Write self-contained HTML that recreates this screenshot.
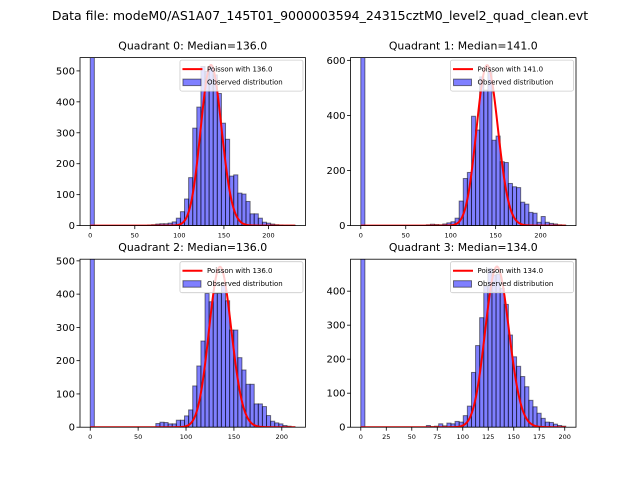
<!DOCTYPE html>
<html><head><meta charset="utf-8">
<style>
html,body{margin:0;padding:0;background:#fff;}
svg{display:block;font-family:"DejaVu Sans","Liberation Sans",sans-serif;}
</style></head>
<body>
<svg id="fig" width="640" height="480" viewBox="0 0 640 480" xmlns="http://www.w3.org/2000/svg">
<rect x="0" y="0" width="640" height="480" fill="#fff"/>
<text x="320" y="20" font-size="12.5" text-anchor="middle" fill="#000">Data file: modeM0/AS1A07_145T01_9000003594_24315cztM0_level2_quad_clean.evt</text>
</svg>
<script>
// ---- data ----
const quadrantNames = ["Quadrant 0", "Quadrant 1", "Quadrant 2", "Quadrant 3"];
const medians = [136.0, 141.0, 136.0, 134.0];
const dataMax = [230, 228, 214, 201];
const counts0 = [2000,0,0,0,0,0,0,0,0,0,0,0,0,0,2,3,5,6,6,8,12,24,45,86,155,315,383,514,498,514,487,427,331,279,160,164,105,102,78,38,38,24,11,8,5,3,2,1,1,1];
const counts1 = [2000,0,0,0,0,0,0,0,0,0,0,0,0,0,0,0,3,5,4,3,6,10,14,27,89,171,193,397,347,540,492,560,310,325,232,229,153,141,138,85,78,48,45,12,33,12,8,6,3,2];
const counts2 = [2000,0,0,0,0,0,0,0,0,0,0,0,0,0,0,0,11,15,14,10,10,21,21,34,52,124,184,259,402,377,402,402,427,380,292,292,209,172,129,129,70,70,62,35,18,13,10,5,3,1];
const counts3 = [2000,0,0,0,0,0,0,0,0,0,0,0,0,0,0,0,5,2,3,10,4,12,10,17,15,34,62,161,240,322,415,467,447,450,408,361,271,207,179,149,119,79,60,41,26,15,14,9,5,3];
const allCounts = [counts0, counts1, counts2, counts3];
const poissonPeaks = [519, 582, 482, 472];
const yTicks0 = [0,100,200,300,400,500];
const yTicks1 = [0,200,400,600];
const yTicks2 = [0,100,200,300,400,500];
const yTicks3 = [0,100,200,300,400];
const xTicks0 = [0,50,100,150,200];
const xTicks1 = [0,50,100,150,200];
const xTicks2 = [0,50,100,150,200];
const xTicks3 = [0,25,50,75,100,125,150,175,200];
const allYTicks = [yTicks0, yTicks1, yTicks2, yTicks3];
const allXTicks = [xTicks0, xTicks1, xTicks2, xTicks3];
const yMaxes = [543, 610, 505, 494];

// ---- layout ----
const NS = "http://www.w3.org/2000/svg";
const svg = document.getElementById('fig');
const axesBoxes = [
  {x:80, y:57.6, w:225.45, h:168},
  {x:350.55, y:57.6, w:225.45, h:168},
  {x:80, y:259.2, w:225.45, h:168},
  {x:350.55, y:259.2, w:225.45, h:168}
];
function mk(tag, attrs, parent){
  const e = document.createElementNS(NS, tag);
  for (const k in attrs) e.setAttribute(k, attrs[k]);
  (parent||svg).appendChild(e);
  return e;
}
function logFact(k){ let s=0; for(let i=2;i<=k;i++) s+=Math.log(i); return s; }
function pmf(k, lam){ return Math.exp(k*Math.log(lam) - lam - logFact(k)); }

for (let q=0;q<4;q++){
  const b = axesBoxes[q];
  const counts = allCounts[q];
  const nb = counts.length;
  const bw = dataMax[q]/nb;
  const xmin = -0.05*dataMax[q], xmax = dataMax[q]*1.05;
  const ymax = yMaxes[q];
  const X = v => b.x + (v - xmin)/(xmax - xmin)*b.w;
  const Y = v => b.y + b.h - v/ymax*b.h;

  const g = mk('g', {});
  
  
  const clipId = 'clip'+q;
  const cp = mk('clipPath', {id: clipId}, g);
  mk('rect', {x:b.x, y:b.y, width:b.w, height:b.h}, cp);

  const bars = mk('g', {'clip-path':'url(#'+clipId+')'}, g);
  
  
  counts.forEach((c,i)=>{
    if (c<=0) return;
    const r = mk('rect', {x:X(i*bw), y:Y(c), width:X((i+1)*bw)-X(i*bw), height:Y(0)-Y(c),
      fill:'rgba(0,0,255,0.5)', stroke:'rgba(0,0,0,0.5)', 'stroke-width':1}, bars);
    
    
  });

  // poisson
  const lam = medians[q];
  const peakPmf = pmf(Math.round(lam), lam);
  let d = '';
  for (let k=0;k<=dataMax[q];k++){
    const v = poissonPeaks[q]*pmf(k,lam)/peakPmf;
    d += (k===0?'M':'L') + X(k).toFixed(2) + ' ' + Y(v).toFixed(2);
  }
  const line = mk('path', {d:d, fill:'none', stroke:'#ff0000', 'stroke-width':2, 'clip-path':'url(#'+clipId+')'}, g);
  
  

  // spines
  const frame = mk('rect', {x:b.x, y:b.y, width:b.w, height:b.h, fill:'none', stroke:'#000', 'stroke-width':0.8}, g);
  
  

  // y ticks
  allYTicks[q].forEach(t=>{
    const y = Y(t);
    mk('line', {x1:b.x-3.5, x2:b.x, y1:y, y2:y, stroke:'#000', 'stroke-width':0.8}, g);
    const tx = mk('text', {x:b.x-5, y:y+3.5, 'font-size':10, 'text-anchor':'end', fill:'#000'}, g);
    tx.textContent = t;
    
    
  });
  // x ticks
  allXTicks[q].forEach(t=>{
    const x = X(t);
    mk('line', {x1:x, x2:x, y1:b.y+b.h, y2:b.y+b.h+3.5, stroke:'#000', 'stroke-width':0.8}, g);
    const tx = mk('text', {x:x, y:b.y+b.h+12, 'font-size':6.5, 'text-anchor':'middle', fill:'#000'}, g);
    tx.textContent = t;
    
    
  });

  // title
  const tt = mk('text', {x:b.x+b.w/2, y:b.y-8, 'font-size':10.9, 'text-anchor':'middle', fill:'#000'}, g);
  tt.textContent = quadrantNames[q] + ': Median=' + medians[q].toFixed(1);
  
  

  // legend
  const lx = b.x + b.w - 125.5, ly = b.y + 2.5;
  const lg = mk('g', {}, g);
  
  
  mk('rect', {x:lx, y:ly, width:123, height:31, rx:2, fill:'rgba(255,255,255,0.8)', stroke:'#ccc', 'stroke-width':0.8}, lg);
  mk('line', {x1:lx+2.5, x2:lx+22.5, y1:ly+9, y2:ly+9, stroke:'#ff0000', 'stroke-width':2}, lg);
  const t1 = mk('text', {x:lx+27, y:ly+11.5, 'font-size':7, fill:'#000'}, lg);
  t1.textContent = 'Poisson with ' + medians[q].toFixed(1);
  
  
  mk('rect', {x:lx+3, y:ly+19, width:18, height:6.5, fill:'rgba(0,0,255,0.5)', stroke:'rgba(0,0,0,0.5)', 'stroke-width':1}, lg);
  const t2 = mk('text', {x:lx+27, y:ly+24.5, 'font-size':7, fill:'#000'}, lg);
  t2.textContent = 'Observed distribution';
  
  
}
</script>
</body></html>
